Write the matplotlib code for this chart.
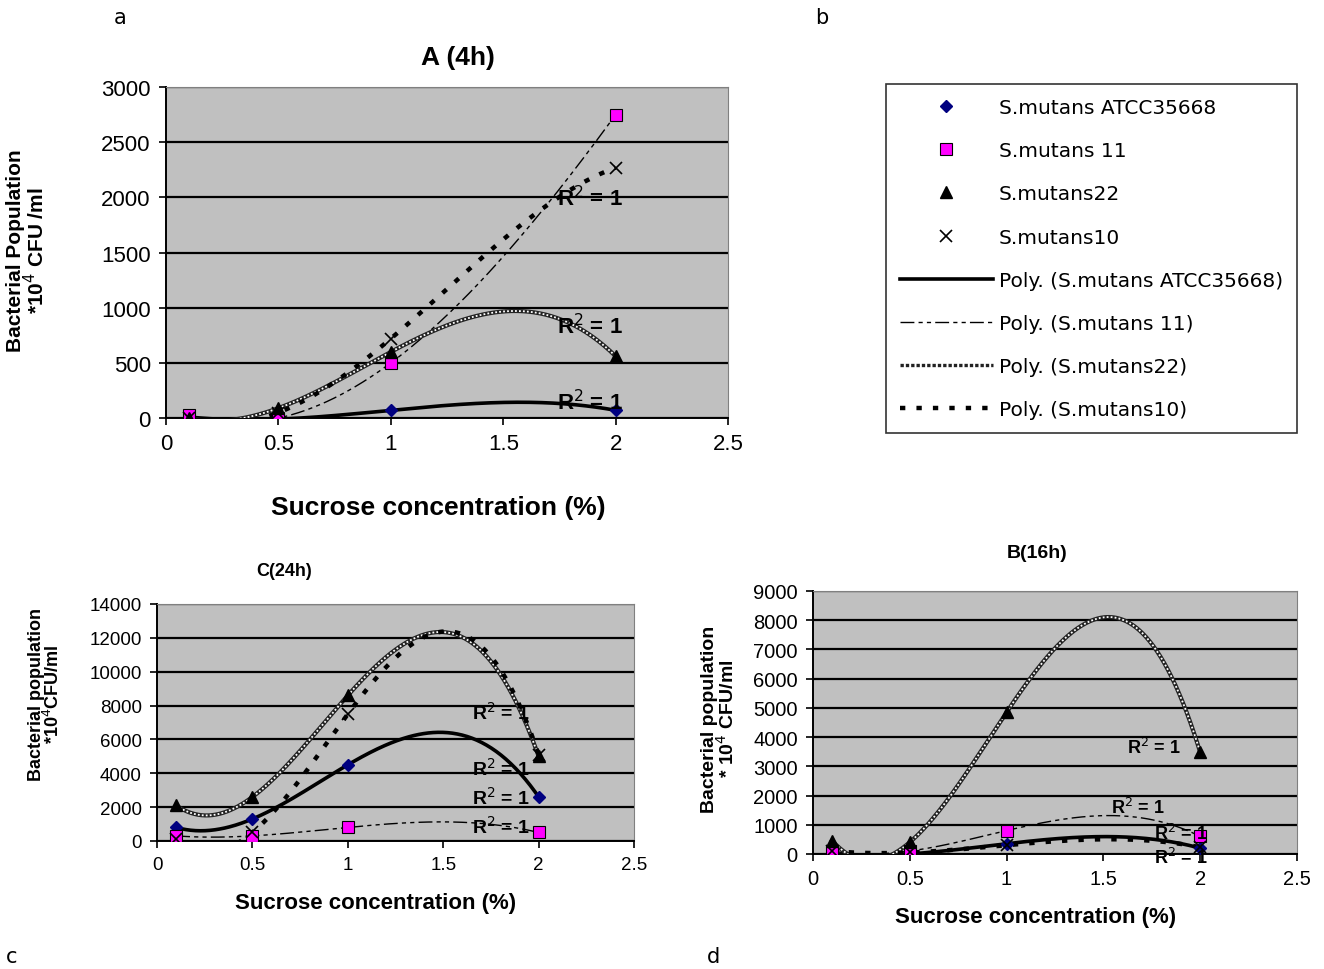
import numpy as np
import matplotlib
matplotlib.use("Agg")
import matplotlib.pyplot as plt
from matplotlib.lines import Line2D

plt.rcParams['font.family'] = ['Liberation Sans Narrow', 'Liberation Sans', 'DejaVu Sans']

# sucrose concentration (%)
sucrose = [0.1, 0.5, 1.0, 2.0]
strains = ["S.mutans ATCC35668", "S.mutans 11", "S.mutans22", "S.mutans10"]

# A (4h)
a_atcc = [10, -10, 70, 70]
a_11 = [30, 0, 500, 2750]
a_22 = [0, 90, 600, 560]
a_10 = [0, 50, 720, 2270]

# B (16h)
b_atcc = [0, 0, 350, 200]
b_11 = [100, 100, 800, 600]
b_22 = [450, 400, 4850, 3480]
b_10 = [100, 50, 300, 230]

# C (24h)
c_atcc = [800, 1300, 4500, 2600]
c_11 = [300, 300, 800, 500]
c_22 = [2100, 2600, 8600, 5000]
c_10 = [100, 500, 7500, 5100]

xticks = [0, 0.5, 1, 1.5, 2, 2.5]
xticklabels = ["0", "0.5", "1", "1.5", "2", "2.5"]

marker_styles = [
    dict(marker='D', color='#000080', ms=6, mec='#000080'),
    dict(marker='s', color='#ff00ff', ms=8, mec='black', mew=0.8),
    dict(marker='^', color='black', ms=8),
    dict(marker='x', color='black', ms=9, mew=1.2),
]


def trend(ax, y, kind):
    coef = np.polyfit(sucrose, y, 3)
    xs = np.linspace(sucrose[0], sucrose[-1], 300)
    ys = np.polyval(coef, xs)
    if kind == 0:
        ax.plot(xs, ys, color='black', lw=2.6, zorder=3)
    elif kind == 1:
        ax.plot(xs, ys, color='black', lw=1.0, dashes=[10, 3, 3, 3, 3, 3], zorder=3)
    elif kind == 2:
        ax.plot(xs, ys, color='#222222', lw=3.0, zorder=3)
        ax.plot(xs, ys, color='white', lw=1.3, dashes=[1, 1.2], zorder=3)
    else:
        ax.plot(xs, ys, color='black', lw=3.2, dashes=[1.2, 2.5], zorder=3)


def panel(pos, series, ymax, ystep, ylabel, r2, tsize, ysize, xsize, rsize, ylc, xlc):
    ax = fig.add_axes(pos)
    ax.set_facecolor('#c0c0c0')
    ax.set_xlim(0, 2.5)
    ax.set_ylim(0, ymax)
    ax.set_yticks(np.arange(0, ymax + 1, ystep))
    ax.set_xticks(xticks)
    ax.set_xticklabels(xticklabels)
    ax.yaxis.grid(True, color='black', lw=1.6)
    ax.set_axisbelow(True)
    for s in ['top', 'right']:
        ax.spines[s].set_color('#808080')
    for s in ['left', 'bottom']:
        ax.spines[s].set_color('black')
        ax.spines[s].set_linewidth(1.4)
    ax.tick_params(direction='out', length=5, width=1.2, labelsize=tsize, pad=6)
    for i, y in enumerate(series):
        trend(ax, y, i)
    for i, y in enumerate(series):
        ax.plot(sucrose, y, ls='none', zorder=4, **marker_styles[i])
    ax.set_ylabel(ylabel, fontsize=ysize, fontweight='bold', linespacing=0.9)
    ax.yaxis.set_label_coords(*ylc)
    ax.set_xlabel("Sucrose concentration (%)", fontsize=xsize, fontweight='bold')
    ax.xaxis.set_label_coords(*xlc)
    for (xt, yt) in r2:
        ax.text(xt, yt, "R$^2$ = 1", fontsize=rsize, fontweight='bold', zorder=5)
    return ax


W, H = 1324, 970
fig = plt.figure(figsize=(W / 100, H / 100), dpi=100)

axA = panel([0.1254, 0.568, 0.4245, 0.3412], [a_atcc, a_11, a_22, a_10], 3000, 500,
            "Bacterial Population\n*10$^4$ CFU /ml",
            [(1.74, 1930), (1.74, 770), (1.74, 80)], 16, 15, 19, 16,
            (-0.21, 0.51), (0.484, -0.233))

axC = panel([0.1186, 0.1320, 0.3603, 0.2443], [c_atcc, c_11, c_22, c_10], 14000, 2000,
            "Bacterial population\n*10$^4$CFU/ml",
            [(1.65, 7200), (1.65, 3900), (1.65, 2200), (1.65, 500)], 13.5, 13, 16, 14,
            (-0.197, 0.624), (0.459, -0.215))

axB = panel([0.6140, 0.1186, 0.3656, 0.2711], [b_atcc, b_11, b_22, b_10], 9000, 1000,
            "Bacterial population\n* 10$^4$ CFU/ml",
            [(1.62, 3450), (1.54, 1400), (1.76, 500), (1.76, -300)], 14.5, 14, 16, 13,
            (-0.155, 0.517), (0.459, -0.198))

fig.text(458 / W, 1 - 58 / H, "A (4h)", fontsize=19, fontweight='bold', ha='center', va='center')
fig.text(284 / W, 1 - 572 / H, "C(24h)", fontsize=13, fontweight='bold', ha='center', va='center')
fig.text(1037 / W, 1 - 554 / H, "B(16h)", fontsize=14, fontweight='bold', ha='center', va='center')

# legend
handles = []
for st in marker_styles:
    handles.append(Line2D([], [], ls='none', **st))
handles.append(Line2D([], [], color='black', lw=2.6))
handles.append(Line2D([], [], color='black', lw=1.0, dashes=[10, 3, 3, 3, 3, 3]))
handles.append(Line2D([], [], color='#222222', lw=2.4, dashes=[1, 0.6]))
handles.append(Line2D([], [], color='black', lw=3.2, dashes=[1.2, 2.5]))
labels = strains + ["Poly. (%s)" % s for s in strains]
leg = fig.legend(handles, labels, loc='upper left', bbox_to_anchor=(886 / W, 1 - 85 / H),
                 frameon=True, fancybox=False, edgecolor='black',
                 prop={'family': 'DejaVu Sans', 'size': 14.5},
                 handlelength=4.6, handletextpad=0.3, labelspacing=1.2,
                 borderpad=0.7, borderaxespad=0)
leg.get_frame().set_linewidth(1.2)

for lbl, px, py in [("a", 120, 18), ("b", 822, 18), ("c", 12, 957), ("d", 713, 957)]:
    fig.text(px / W, 1 - py / H, lbl, fontsize=15, ha='center', va='center', family='DejaVu Sans')

fig.savefig("out.png", dpi=100)
